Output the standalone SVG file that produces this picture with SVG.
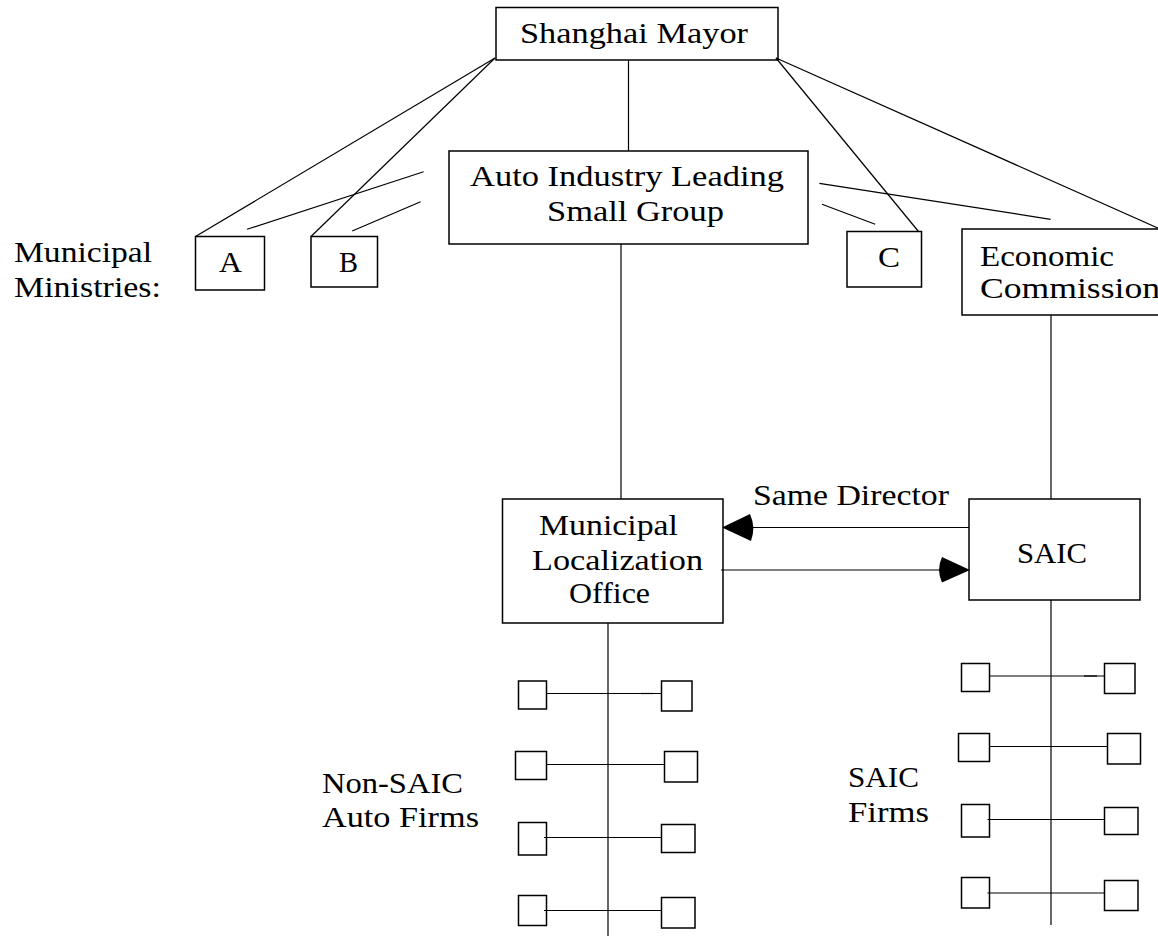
<svg xmlns="http://www.w3.org/2000/svg" width="1158" height="940" viewBox="0 0 1158 940">
<style>
.box{fill:#fff;stroke:#000;stroke-width:1.5}
.sb{fill:none;stroke:#000;stroke-width:1.5}
.ln{stroke:#000;stroke-width:1.2;fill:none}
.hd{fill:#000;stroke:none}
.t{font-family:"Liberation Serif","Times New Roman",serif;font-size:30px;fill:#000}
</style>
<rect width="1158" height="940" fill="#fff"/>

<g id="mayor"><rect class="box" x="496" y="7.5" width="282" height="52.5"/><text class="t" x="520" y="43" textLength="228" lengthAdjust="spacingAndGlyphs">Shanghai Mayor</text></g>
<g id="leading-group"><rect class="box" x="449" y="151" width="359" height="93"/><text class="t" x="470" y="186" textLength="314" lengthAdjust="spacingAndGlyphs">Auto Industry Leading</text><text class="t" x="547" y="221" textLength="177" lengthAdjust="spacingAndGlyphs">Small Group</text></g>
<g id="ministries-label"><text class="t" x="14" y="262" textLength="138" lengthAdjust="spacingAndGlyphs">Municipal</text><text class="t" x="14" y="297" textLength="147" lengthAdjust="spacingAndGlyphs">Ministries:</text></g>
<g id="ministry-a"><rect class="box" x="195.5" y="236.5" width="69" height="53.5"/><text class="t" x="219" y="272" textLength="23" lengthAdjust="spacingAndGlyphs">A</text></g>
<g id="ministry-b"><rect class="box" x="311" y="236.5" width="66.5" height="50.5"/><text class="t" x="339" y="272" textLength="19" lengthAdjust="spacingAndGlyphs">B</text></g>
<g id="ministry-c"><rect class="box" x="847" y="231.5" width="74.5" height="55.5"/><text class="t" x="878" y="267" textLength="22" lengthAdjust="spacingAndGlyphs">C</text></g>
<g id="economic-commission"><rect class="box" x="962" y="229" width="210" height="86"/><text class="t" x="980" y="266" textLength="134" lengthAdjust="spacingAndGlyphs">Economic</text><text class="t" x="980" y="298" textLength="180" lengthAdjust="spacingAndGlyphs">Commission</text></g>
<g id="localization-office"><rect class="box" x="502.5" y="499" width="220.5" height="124"/><text class="t" x="539" y="535" textLength="139" lengthAdjust="spacingAndGlyphs">Municipal</text><text class="t" x="532" y="570" textLength="171" lengthAdjust="spacingAndGlyphs">Localization</text><text class="t" x="569" y="603" textLength="81" lengthAdjust="spacingAndGlyphs">Office</text></g>
<g id="saic"><rect class="box" x="969" y="499" width="171" height="101"/><text class="t" x="1017" y="563" textLength="70" lengthAdjust="spacingAndGlyphs">SAIC</text></g>
<g id="same-director-label"><text class="t" x="753" y="505" textLength="196" lengthAdjust="spacingAndGlyphs">Same Director</text></g>
<g id="non-saic-label"><text class="t" x="322" y="793" textLength="141" lengthAdjust="spacingAndGlyphs">Non-SAIC</text><text class="t" x="322" y="827" textLength="157" lengthAdjust="spacingAndGlyphs">Auto Firms</text></g>
<g id="saic-firms-label"><text class="t" x="848" y="787" textLength="71" lengthAdjust="spacingAndGlyphs">SAIC</text><text class="t" x="848" y="822" textLength="81" lengthAdjust="spacingAndGlyphs">Firms</text></g>

<g id="non-saic-firms">
<rect class="sb" x="518.5" y="681" width="28" height="28"/><rect class="sb" x="661.5" y="681" width="30.5" height="30"/>
<rect class="sb" x="515.5" y="751.5" width="31" height="28"/><rect class="sb" x="664.5" y="751.5" width="33" height="30.5"/>
<rect class="sb" x="518.5" y="822.5" width="28" height="32.5"/><rect class="sb" x="661.5" y="824.5" width="33.5" height="28"/>
<rect class="sb" x="518.5" y="895.5" width="28" height="30"/><rect class="sb" x="661.5" y="897.5" width="33.5" height="30.5"/>
</g>
<g id="saic-firms">
<rect class="sb" x="961.5" y="663.5" width="28" height="28"/><rect class="sb" x="1104.5" y="663.5" width="30.5" height="30"/>
<rect class="sb" x="958.5" y="733.5" width="31" height="28"/><rect class="sb" x="1107.5" y="733.5" width="33" height="30.5"/>
<rect class="sb" x="961.5" y="804.5" width="28" height="32.5"/><rect class="sb" x="1104.5" y="807.5" width="33.5" height="27"/>
<rect class="sb" x="961.5" y="877.5" width="28" height="30.5"/><rect class="sb" x="1104.5" y="880.5" width="33.5" height="30"/>
</g>

<g id="connectors">
<path class="ln" d="M495,58 L195.5,236.5"/>
<path class="ln" d="M495,58 L311,236.5"/>
<path class="ln" d="M423.6,171.7 L247,229.3"/>
<path class="ln" d="M420.6,201.7 L352.2,231"/>
<path class="ln" d="M628.5,60 L628.5,151"/>
<path class="ln" d="M776,58 L918.5,231.5"/>
<path class="ln" d="M776,58 L1160,229"/>
<path class="ln" d="M819.4,183.3 L1050.6,219.3"/>
<path class="ln" d="M822,204.3 L875.2,224.3"/>
<path class="ln" d="M621,244 L621,499"/>
<path class="ln" d="M1051,315 L1051,499"/>
<path class="ln" d="M969,527.5 L750,527.5"/>
<path class="hd" d="M722,527.5 L750,514 Q756,527.5 751,541 Z"/>
<path class="ln" d="M721,570 L942,570"/>
<path class="hd" d="M970,570 L942,557 Q936,570 942,582.5 Z"/>
<path class="ln" d="M608,623 L608,936"/>
<path class="ln" d="M1051,600 L1051,925"/>
<path class="ln" d="M546.5,693.5 L661.5,693.5"/>
<path class="ln" d="M641,693.5 L653,693.5" stroke-width="2.4"/>
<path class="ln" d="M546.5,764.5 L664.5,764.5"/>
<path class="ln" d="M544,837.5 L661.5,837.5"/>
<path class="ln" d="M544,910.5 L661.5,910.5"/>
<path class="ln" d="M989.5,676 L1104.5,676"/>
<path class="ln" d="M1084,676 L1097,676" stroke-width="2.4"/>
<path class="ln" d="M989.5,746.5 L1107.5,746.5"/>
<path class="ln" d="M987.5,819.5 L1104.5,819.5"/>
<path class="ln" d="M987.5,893 L1104.5,893"/>
</g>
</svg>
